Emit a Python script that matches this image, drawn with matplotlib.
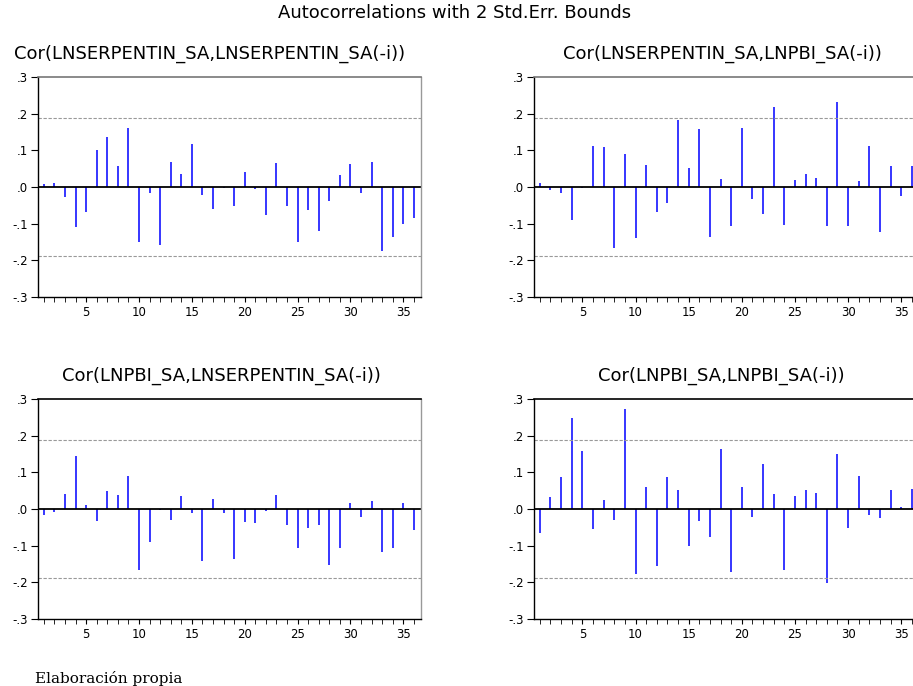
import numpy as np
import matplotlib
matplotlib.use("Agg")
import matplotlib.pyplot as plt

plt.rcParams['font.family'] = ['DejaVu Sans']

lags = np.arange(1, 37)
bound = 0.189

# Cor(LNSERPENTIN_SA,LNSERPENTIN_SA(-i))
cor_ss = [0.007, 0.011, -0.026, -0.108, -0.067, 0.102, 0.136, 0.057, 0.160, -0.150,
          -0.015, -0.157, 0.068, 0.036, 0.118, -0.021, -0.060, -0.003, -0.053, 0.041,
          -0.005, -0.076, 0.065, -0.051, -0.151, -0.062, -0.121, -0.038, 0.032, 0.062,
          -0.015, 0.068, -0.174, -0.137, -0.102, -0.085]
# Cor(LNSERPENTIN_SA,LNPBI_SA(-i))
cor_sp = [0.011, -0.007, -0.015, -0.090, -0.002, 0.113, 0.109, -0.165, 0.090, -0.138,
          0.059, -0.069, -0.044, 0.182, 0.051, 0.157, -0.135, 0.022, -0.106, 0.160,
          -0.034, -0.074, 0.217, -0.104, 0.019, 0.036, 0.025, -0.106, 0.232, -0.106,
          0.016, 0.112, -0.124, 0.056, -0.024, 0.056]
# Cor(LNPBI_SA,LNSERPENTIN_SA(-i))
cor_ps = [-0.016, -0.008, 0.042, 0.145, 0.011, -0.033, 0.048, 0.038, 0.091, -0.167,
          -0.089, -0.003, -0.030, 0.035, -0.011, -0.142, 0.026, -0.010, -0.135, -0.035,
          -0.039, -0.005, 0.039, -0.043, -0.106, -0.052, -0.043, -0.152, -0.105, 0.017,
          -0.022, 0.021, -0.116, -0.105, 0.017, -0.057]
# Cor(LNPBI_SA,LNPBI_SA(-i))
cor_pp = [-0.066, 0.032, 0.086, 0.247, 0.157, -0.054, 0.024, -0.031, 0.274, -0.177,
          0.059, -0.155, 0.086, 0.052, -0.101, -0.033, -0.075, 0.164, -0.172, 0.061,
          -0.022, 0.123, 0.041, -0.165, 0.035, 0.051, 0.045, -0.203, 0.149, -0.052,
          0.091, -0.017, -0.025, 0.051, 0.005, 0.054]

# title, values, box in pixels (left, top, right, bottom), title x, top line colour
panels = [
    ("Cor(LNSERPENTIN_SA,LNSERPENTIN_SA(-i))", cor_ss, [38, 77, 421, 297], 210, '#777777'),
    ("Cor(LNSERPENTIN_SA,LNPBI_SA(-i))", cor_sp, [534, 77, 919, 297], 722, '#777777'),
    ("Cor(LNPBI_SA,LNSERPENTIN_SA(-i))", cor_ps, [38, 399, 421, 619], 221, 'black'),
    ("Cor(LNPBI_SA,LNPBI_SA(-i))", cor_pp, [534, 399, 919, 619], 721, 'black'),
]

W, H = 913, 686
fig = plt.figure(figsize=(W / 100, H / 100), dpi=100)
fig.patch.set_facecolor('white')

fig.text(455 / W, 1 - 13 / H, "Autocorrelations with 2 Std.Err. Bounds",
         ha='center', va='center', fontsize=13)

for title, vals, (x0, y0, x1, y1), tx, fc in panels:
    ax = fig.add_axes([x0 / W, 1 - y1 / H, (x1 - x0) / W, (y1 - y0) / H])
    ax.vlines(lags, 0, vals, color='#0000ff', linewidth=1.1)
    ax.axhline(0, color='black', linewidth=1.3)
    ax.axhline(bound, color='#999999', linewidth=0.8, linestyle=(0, (3, 1.5)))
    ax.axhline(-bound, color='#999999', linewidth=0.8, linestyle=(0, (3, 1.5)))
    ax.set_xlim(0.45, 36.67)
    ax.set_ylim(-0.3, 0.3)
    ax.set_yticks([-0.3, -0.2, -0.1, 0.0, 0.1, 0.2, 0.3])
    ax.set_yticklabels(['-.3', '-.2', '-.1', '.0', '.1', '.2', '.3'])
    ax.set_xticks([5, 10, 15, 20, 25, 30, 35])
    ax.set_xticks(lags, minor=True)
    ax.tick_params(axis='both', labelsize=8.5, direction='out', width=0.8, pad=2)
    ax.tick_params(axis='y', length=5)
    ax.tick_params(axis='x', which='both', length=3.5, pad=3)
    ax.spines['top'].set_color(fc)
    ax.spines['top'].set_linewidth(1.2)
    ax.spines['right'].set_color('#999999')
    ax.spines['right'].set_linewidth(1.0)
    for s in ('left', 'bottom'):
        ax.spines[s].set_linewidth(1.0)
    fig.text(tx / W, 1 - (y0 - 23) / H, title, ha='center', va='center', fontsize=13)

fig.text(35 / W, 1 - 678 / H, "Elaboración propia", ha='left', va='center',
         fontsize=11, family='DejaVu Serif')

fig.savefig("out.png", dpi=100)
